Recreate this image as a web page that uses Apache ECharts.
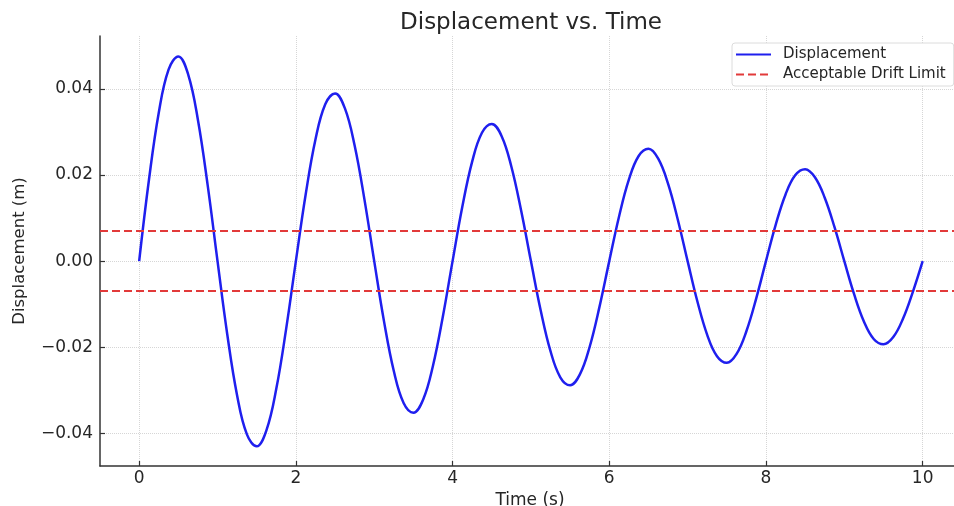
<!DOCTYPE html>
<html>
<head>
<meta charset="utf-8">
<script src="https://cdn.jsdelivr.net/npm/echarts@6/dist/echarts.min.js"></script>
<style>
html,body{margin:0;padding:0;background:#fff;}
#chart{width:954px;height:506px;}
</style>
</head>
<body>
<div id="chart"></div>
<script>
// Time samples (s)
const timeValues = [
  0, 0.125, 0.25, 0.375, 0.5, 0.625, 0.75, 0.875,
  1, 1.125, 1.25, 1.375, 1.5, 1.625, 1.75, 1.875,
  2, 2.125, 2.25, 2.375, 2.5, 2.625, 2.75, 2.875,
  3, 3.125, 3.25, 3.375, 3.5, 3.625, 3.75, 3.875,
  4, 4.125, 4.25, 4.375, 4.5, 4.625, 4.75, 4.875,
  5, 5.125, 5.25, 5.375, 5.5, 5.625, 5.75, 5.875,
  6, 6.125, 6.25, 6.375, 6.5, 6.625, 6.75, 6.875,
  7, 7.125, 7.25, 7.375, 7.5, 7.625, 7.75, 7.875,
  8, 8.125, 8.25, 8.375, 8.5, 8.625, 8.75, 8.875,
  9, 9.125, 9.25, 9.375, 9.5, 9.625, 9.75, 9.875,
  10
];
// Displacement (m)
const displacementValues = [
  0, 0.018896, 0.034482, 0.044494, 0.047561, 0.043396, 0.032801, 0.017531,
  0, -0.017098, -0.031201, -0.040260, -0.043035, -0.039266, -0.029679, -0.015863,
  0, 0.015471, 0.028231, 0.036429, 0.038940, 0.035530, 0.026855, 0.014353,
  0, -0.013999, -0.025545, -0.032962, -0.035234, -0.032148, -0.024299, -0.012987,
  0, 0.012667, 0.023114, 0.029826, 0.031881, 0.029089, 0.021987, 0.011751,
  0, -0.011461, -0.020915, -0.026987, -0.028847, -0.026320, -0.019894, -0.010633,
  0, 0.010371, 0.018924, 0.024419, 0.026102, 0.023816, 0.018001, 0.009621,
  0, -0.009383, -0.017124, -0.022095, -0.023618, -0.021549, -0.016288, -0.008706,
  0, 0.008491, 0.015494, 0.019993, 0.021370, 0.019499, 0.014738, 0.007877,
  0, -0.007682, -0.014020, -0.018090, -0.019337, -0.017643, -0.013335, -0.007128,
  0
];
// Acceptable drift limits (m)
const driftLimits = [0.007, -0.007];
// Tick values
const xTicks = [0, 2, 4, 6, 8, 10];
const yTicks = [-0.04, -0.02, 0, 0.02, 0.04];

const seriesNames = ['Displacement', 'Acceptable Drift Limit'];
const titleText = 'Displacement vs. Time';
const xName = 'Time (s)';
const yName = 'Displacement (m)';

const lineData = timeValues.map((t, i) => [t, displacementValues[i]]);

const chart = echarts.init(document.getElementById('chart'), null, {renderer: 'canvas'});
const font = 'DejaVu Sans';
chart.setOption({
  animation: false,
  backgroundColor: '#ffffff',
  title: {
    text: titleText,
    left: 531,
    textAlign: 'center',
    top: 12,
    padding: 0,
    textStyle: {fontFamily: font, fontSize: 23, fontWeight: 'normal', color: '#262626'}
  },
  legend: {
    orient: 'vertical',
    left: 732,
    top: 43,
    padding: [4, 8, 4, 3],
    itemWidth: 35,
    itemHeight: 14,
    itemGap: 5,
    backgroundColor: '#ffffff',
    borderColor: '#dcdcdc',
    borderWidth: 1,
    borderRadius: 3,
    itemStyle: {opacity: 0},
    textStyle: {fontFamily: font, fontSize: 15, color: '#262626', padding: [0, 0, 0, 7]},
    data: seriesNames
  },
  grid: {left: 100, right: 0, top: 36, bottom: 40, containLabel: false, outerBoundsMode: 'none'},
  xAxis: {
    type: 'value',
    min: -0.5,
    max: 10.4,
    name: xName,
    nameLocation: 'middle',
    nameGap: 22,
    nameTextStyle: {fontFamily: font, fontSize: 17, color: '#262626', padding: [0, 0, 0, 6]},
    axisLine: {onZero: false, lineStyle: {color: '#333333', width: 1.5}},
    axisTick: {inside: true, length: 5, customValues: xTicks, lineStyle: {color: '#333333', width: 1.2}},
    axisLabel: {customValues: xTicks, margin: 4, fontFamily: font, fontSize: 17, color: '#262626',
      formatter: v => String(v)},
    splitLine: {show: true, lineStyle: {color: '#d6d6d6', type: 'dotted', width: 1}}
  },
  yAxis: {
    type: 'value',
    min: -0.0476,
    max: 0.0523,
    name: yName,
    nameLocation: 'middle',
    nameGap: 72,
    nameTextStyle: {fontFamily: font, fontSize: 16.5, color: '#262626'},
    axisLine: {show: true, onZero: false, lineStyle: {color: '#333333', width: 1.5}},
    axisTick: {show: true, inside: true, length: 5, customValues: yTicks, lineStyle: {color: '#333333', width: 1.2}},
    axisLabel: {customValues: yTicks, margin: 7, fontFamily: font, fontSize: 17, color: '#262626',
      formatter: v => (v < 0 ? '\u2212' : '') + Math.abs(v).toFixed(2)},
    splitLine: {show: true, lineStyle: {color: '#d6d6d6', type: 'dotted', width: 1}}
  },
  series: [
    {
      name: seriesNames[0],
      type: 'line',
      data: lineData,
      smooth: 0.4,
      showSymbol: false,
      symbol: 'none',
      lineStyle: {color: '#1f1fee', width: 2.5},
      itemStyle: {color: '#1f1fee'},
      z: 3
    },
    {
      name: seriesNames[1],
      type: 'line',
      data: [],
      symbol: 'none',
      lineStyle: {color: '#e23a3a', width: 2, type: [8, 4]},
      itemStyle: {color: '#e23a3a'},
      markLine: {
        silent: true,
        precision: 6,
        symbol: ['none', 'none'],
        label: {show: false},
        lineStyle: {color: '#e23a3a', width: 2, type: [8, 4]},
        data: driftLimits.map(v => ({yAxis: v}))
      },
      z: 4
    }
  ]
});
</script>
</body>
</html>
